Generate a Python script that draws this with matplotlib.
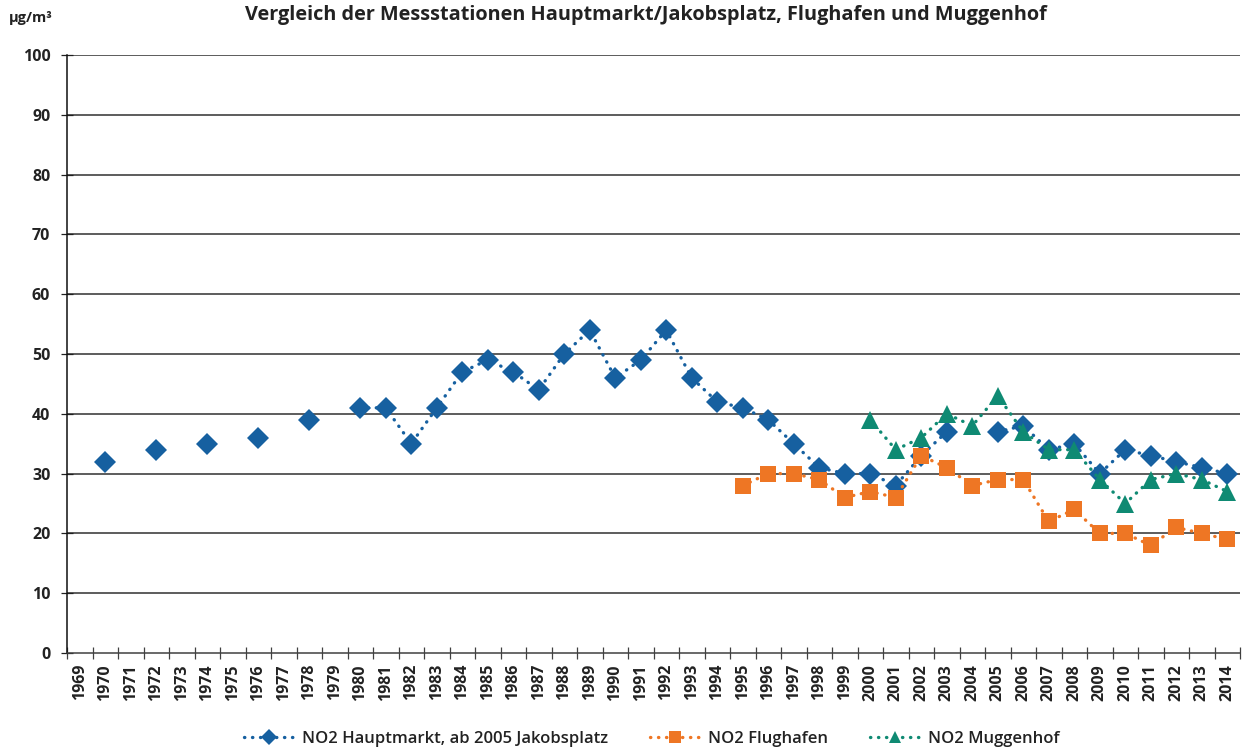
import numpy as np
import matplotlib
matplotlib.use("Agg")
import matplotlib.pyplot as plt
from matplotlib.lines import Line2D

plt.rcParams['font.family'] = ['Open Sans', 'DejaVu Sans']

years = [str(y) for y in range(1969, 2015)]

# NO2 annual means in µg/m³ (None = no measurement that year)
hauptmarkt = [None, 32, None, 34, None, 35, None, 36, None, 39, None,
              41, 41, 35, 41, 47, 49, 47, 44, 50, 54, 46, 49, 54, 46, 42,
              41, 39, 35, 31, 30, 30, 28, 33, 37, None, 37, 38, 34, 35, 30,
              34, 33, 32, 31, 30]
flughafen = [None] * 26 + [28, 30, 30, 29, 26, 27, 26, 33, 31, 28, 29, 29,
                           22, 24, 20, 20, 18, 21, 20, 19]
muggenhof = [None] * 31 + [39, 34, 36, 40, 38, 43, 37, 34, 34, 29, 25, 29,
                           30, 29, 27]

series_labels = ["NO2 Hauptmarkt, ab 2005 Jakobsplatz", "NO2 Flughafen",
                 "NO2 Muggenhof"]
yticks = list(range(0, 101, 10))

blue = '#1660A0'
orange = '#EE7624'
green = '#0F8A73'
text_col = '#222222'


def arr(v):
    return np.array([np.nan if x is None else x for x in v], dtype=float)


fig = plt.figure(figsize=(12.42, 7.52), dpi=100)
ax = fig.add_axes([67 / 1242, 1 - 653 / 752, (1240 - 67) / 1242, (653 - 55) / 752])

x = np.arange(len(years))
dot = (0, (0.1, 2.3))
common = dict(linestyle=dot, linewidth=2.4, dash_capstyle='round',
              solid_capstyle='round')

ax.plot(x, arr(hauptmarkt), color=blue, marker='D', markersize=11.5,
        markeredgewidth=0, zorder=3, **common)
ax.plot(x, arr(flughafen), color=orange, marker='s', markersize=11,
        markeredgewidth=0, zorder=4, **common)
ax.plot(x, arr(muggenhof), color=green, marker='^', markersize=12.5,
        markeredgewidth=0, zorder=5, **common)

ax.set_xlim(-0.5, len(years) - 0.5)
ax.set_ylim(0, 100)
ax.set_yticks(yticks)
ax.set_yticklabels([str(t) for t in yticks], fontsize=11.5, fontweight='bold',
                   color=text_col)
ax.set_xticks(x)
ax.set_xticklabels(years, rotation=90, fontsize=11.5, fontweight='bold',
                   color=text_col)
ax.set_xticks(np.arange(-0.5, len(years), 1), minor=True)
ax.tick_params(axis='x', which='major', length=0, pad=8)
ax.tick_params(axis='x', which='minor', length=9, direction='inout',
               width=0.9, color='#404040')
ax.tick_params(axis='y', which='major', length=8, direction='inout',
               width=0.9, color='#202020', pad=8)

for t in yticks[1:]:
    ax.axhline(t, color='#303030', linewidth=1.1, zorder=1)

for side in ['top', 'right']:
    ax.spines[side].set_visible(False)
ax.spines['left'].set_color('#101010')
ax.spines['left'].set_linewidth(1.1)
ax.spines['bottom'].set_color('#404040')
ax.spines['bottom'].set_linewidth(1.1)

fig.text(646 / 1242, 1 - 15 / 752,
         "Vergleich der Messstationen Hauptmarkt/Jakobsplatz, Flughafen und Muggenhof",
         ha='center', va='center', fontsize=14.3, fontweight='bold', color=text_col)
fig.text(9 / 1242, 1 - 18 / 752, "µg/m³", ha='left', va='center',
         fontsize=10.5, fontweight='bold', color=text_col)

handles = [
    Line2D([], [], color=blue, marker='D', markersize=8, markeredgewidth=0, **common),
    Line2D([], [], color=orange, marker='s', markersize=9, markeredgewidth=0, **common),
    Line2D([], [], color=green, marker='^', markersize=9, markeredgewidth=0, **common),
]
leg = fig.legend(handles, series_labels, loc='center',
                 bbox_to_anchor=(652 / 1242, 1 - 739 / 752),
                 ncol=3, frameon=False, handlelength=3.0,
                 columnspacing=2.5, handletextpad=0.5,
                 prop={'weight': 'semibold', 'size': 12})
for t in leg.get_texts():
    t.set_color(text_col)

fig.savefig("out.png", dpi=100)
